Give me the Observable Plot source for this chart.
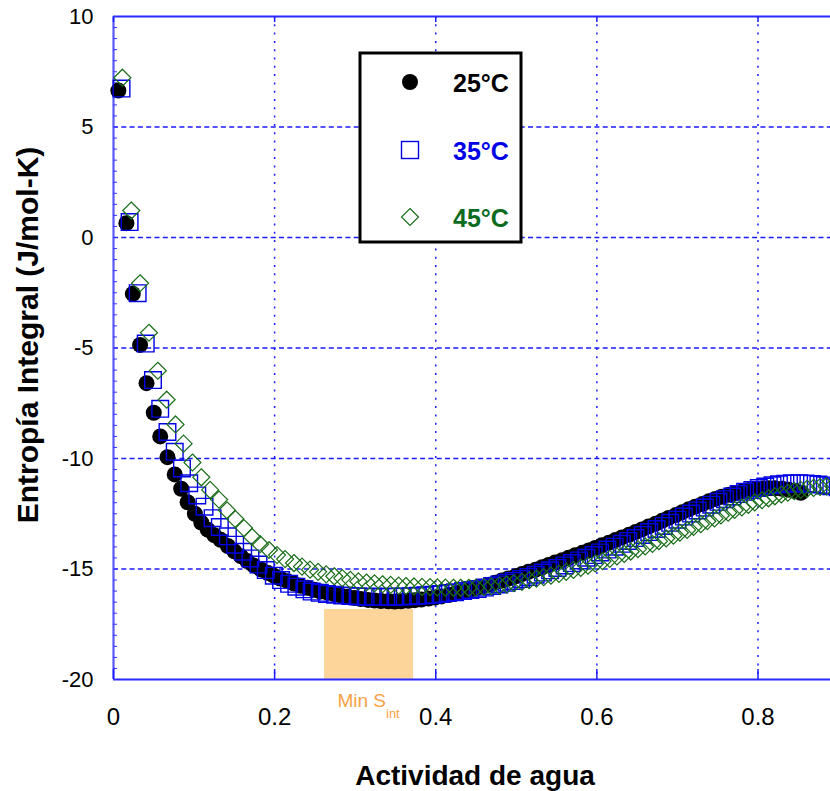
<!DOCTYPE html>
<html><head><meta charset="utf-8">
<script src="https://cdn.jsdelivr.net/npm/d3@7"></script>
<script src="https://cdn.jsdelivr.net/npm/@observablehq/plot@0.6"></script>
<style>html,body{margin:0;padding:0;background:#fff;} svg{display:block;}</style>
</head><body><div id="chart"></div>
<script>
// 25°C (circles)
const aw25 = [0.006,0.016,0.024,0.033,0.041,0.050,0.058,0.067,0.076,0.084,
0.092,0.101,0.109,0.117,0.125,0.133,0.142,0.150,0.158,0.166,
0.174,0.183,0.191,0.199,0.207,0.216,0.224,0.232,0.241,0.249,
0.257,0.266,0.274,0.282,0.291,0.299,0.307,0.316,0.324,0.332,
0.341,0.349,0.357,0.366,0.374,0.382,0.391,0.399,0.407,0.416,
0.424,0.432,0.441,0.449,0.457,0.466,0.474,0.482,0.490,0.499,
0.507,0.515,0.524,0.532,0.540,0.548,0.557,0.565,0.573,0.582,
0.590,0.598,0.606,0.615,0.623,0.631,0.640,0.648,0.656,0.664,
0.673,0.681,0.689,0.698,0.706,0.714,0.722,0.731,0.739,0.747,
0.755,0.764,0.772,0.780,0.788,0.797,0.805,0.813,0.821,0.830,
0.838,0.846,0.853];
const s25 = [6.65,0.65,-2.55,-4.86,-6.59,-7.93,-9.00,-9.94,-10.72,-11.37,
-11.98,-12.50,-12.90,-13.22,-13.47,-13.68,-13.96,-14.20,-14.42,-14.64,
-14.84,-15.02,-15.17,-15.30,-15.43,-15.55,-15.66,-15.76,-15.85,-15.94,
-16.02,-16.08,-16.14,-16.20,-16.26,-16.31,-16.36,-16.40,-16.43,-16.45,
-16.46,-16.47,-16.46,-16.44,-16.41,-16.38,-16.34,-16.29,-16.24,-16.18,
-16.11,-16.04,-15.97,-15.89,-15.80,-15.71,-15.62,-15.52,-15.43,-15.33,
-15.23,-15.13,-15.03,-14.92,-14.82,-14.71,-14.60,-14.49,-14.38,-14.27,
-14.16,-14.05,-13.93,-13.81,-13.69,-13.57,-13.45,-13.33,-13.21,-13.08,
-12.95,-12.82,-12.69,-12.56,-12.43,-12.30,-12.18,-12.06,-11.94,-11.83,
-11.73,-11.64,-11.56,-11.49,-11.43,-11.39,-11.36,-11.35,-11.35,-11.37,
-11.41,-11.47,-11.55];

// 35°C (squares)
const aw35 = [0.010,0.020,0.030,0.040,0.049,0.058,0.067,0.076,0.085,0.094,
0.104,0.113,0.123,0.132,0.142,0.151,0.161,0.170,0.180,0.189,
0.199,0.208,0.218,0.227,0.237,0.246,0.256,0.265,0.275,0.284,
0.294,0.303,0.313,0.322,0.331,0.341,0.350,0.359,0.369,0.378,
0.387,0.397,0.406,0.415,0.424,0.434,0.443,0.452,0.461,0.470,
0.479,0.488,0.497,0.506,0.515,0.524,0.533,0.542,0.551,0.560,
0.569,0.578,0.587,0.596,0.604,0.613,0.622,0.631,0.639,0.648,
0.657,0.665,0.674,0.683,0.691,0.700,0.708,0.717,0.725,0.734,
0.742,0.751,0.759,0.768,0.776,0.784,0.793,0.801,0.809,0.818,
0.826,0.834,0.842,0.851,0.859,0.867,0.875,0.883,0.891,0.899];
const s35 = [6.74,0.70,-2.52,-4.80,-6.45,-7.75,-8.80,-9.70,-10.45,-11.12,
-11.67,-12.18,-12.70,-13.10,-13.52,-13.90,-14.22,-14.52,-14.80,-15.05,
-15.30,-15.50,-15.67,-15.80,-15.92,-16.02,-16.08,-16.13,-16.17,-16.20,
-16.22,-16.24,-16.25,-16.26,-16.26,-16.26,-16.25,-16.24,-16.23,-16.21,
-16.19,-16.16,-16.13,-16.09,-16.05,-16.00,-15.95,-15.90,-15.84,-15.77,
-15.70,-15.62,-15.54,-15.45,-15.36,-15.26,-15.16,-15.06,-14.95,-14.84,
-14.73,-14.61,-14.49,-14.37,-14.25,-14.12,-13.99,-13.86,-13.73,-13.60,
-13.46,-13.33,-13.19,-13.05,-12.91,-12.77,-12.63,-12.49,-12.35,-12.22,
-12.09,-11.96,-11.84,-11.72,-11.61,-11.51,-11.42,-11.34,-11.27,-11.21,
-11.17,-11.14,-11.12,-11.12,-11.13,-11.15,-11.18,-11.22,-11.26,-11.30];

// 45°C (diamonds)
const aw45 = [0.011,0.022,0.033,0.044,0.055,0.066,0.077,0.087,0.098,0.109,
0.120,0.131,0.141,0.151,0.162,0.172,0.182,0.193,0.203,0.213,
0.224,0.234,0.244,0.254,0.264,0.274,0.284,0.294,0.304,0.314,
0.324,0.334,0.344,0.354,0.363,0.373,0.383,0.393,0.402,0.412,
0.422,0.431,0.441,0.450,0.460,0.469,0.479,0.488,0.497,0.507,
0.516,0.525,0.534,0.543,0.553,0.562,0.571,0.580,0.589,0.598,
0.607,0.616,0.625,0.634,0.642,0.651,0.660,0.669,0.677,0.686,
0.695,0.703,0.712,0.720,0.729,0.737,0.746,0.754,0.763,0.771,
0.780,0.788,0.796,0.805,0.813,0.821,0.829,0.837,0.845,0.853,
0.861,0.869,0.877,0.885,0.893];
const s45 = [7.23,1.22,-2.07,-4.31,-6.03,-7.34,-8.46,-9.33,-10.18,-10.85,
-11.42,-11.86,-12.35,-12.73,-13.15,-13.55,-13.88,-14.14,-14.37,-14.55,
-14.73,-14.89,-15.03,-15.13,-15.24,-15.33,-15.41,-15.49,-15.56,-15.61,
-15.65,-15.69,-15.72,-15.75,-15.77,-15.79,-15.81,-15.82,-15.83,-15.84,
-15.85,-15.85,-15.85,-15.84,-15.82,-15.79,-15.75,-15.70,-15.64,-15.58,
-15.51,-15.44,-15.37,-15.30,-15.22,-15.13,-15.04,-14.95,-14.85,-14.75,
-14.65,-14.54,-14.43,-14.32,-14.21,-14.10,-13.98,-13.86,-13.74,-13.62,
-13.49,-13.36,-13.23,-13.10,-12.97,-12.84,-12.71,-12.58,-12.45,-12.33,
-12.21,-12.10,-11.99,-11.89,-11.80,-11.71,-11.63,-11.55,-11.48,-11.42,
-11.37,-11.33,-11.29,-11.26,-11.24];

const xTicks = [0, 0.2, 0.4, 0.6, 0.8];
const yTicks = [-20, -15, -10, -5, 0, 5, 10];
const yMinor = [-20,-19.5,-19,-18.5,-18,-17.5,-17,-16.5,-16,-15.5,-15,-14.5,-14,-13.5,-13,-12.5,-12,-11.5,-11,-10.5,-10,-9.5,-9,-8.5,-8,-7.5,-7,-6.5,-6,-5.5,-5,-4.5,-4,-3.5,-3,-2.5,-2,-1.5,-1,-0.5,0,0.5,1,1.5,2,2.5,3,3.5,4,4.5,5,5.5,6,6.5,7,7.5,8,8.5,9,9.5,10];
const minBand = [0.262, 0.3725];
const minTop = [-16.83];
const seriesNames = ["25°C", "35°C", "45°C"];
const seriesColors = ["#000000", "#0000e6", "#0b6b1f"];
const xTitle = "Actividad de agua";
const yTitle = "Entropía Integral (J/mol-K)";

const squareSym = {draw(ctx, size){const r=Math.sqrt(size/Math.PI); ctx.moveTo(-r,-r); ctx.lineTo(r,-r); ctx.lineTo(r,r); ctx.lineTo(-r,r); ctx.closePath();}};
const diamondSym = {draw(ctx, size){const r=Math.sqrt(size/Math.PI); ctx.moveTo(0,-r); ctx.lineTo(r,0); ctx.lineTo(0,r); ctx.lineTo(-r,0); ctx.closePath();}};

const grid = "#1a1aff";
const plot = Plot.plot({
  width: 830, height: 791,
  marginTop: 16, marginRight: 0, marginBottom: 112, marginLeft: 113,
  style: {fontFamily: "'Liberation Sans', Arial, sans-serif", background: "#fff", color: "#000", overflow: "visible"},
  x: {domain: [0, 0.89]},
  y: {domain: [-20, 10]},
  marks: [
    Plot.rect(minTop, {x1: () => minBand[0], x2: () => minBand[1], y1: () => -20, y2: d => d, fill: "#fdd59a"}),
    Plot.gridY(yTicks.filter(d => d > -20 && d < 10), {stroke: grid, strokeOpacity: 1, strokeWidth: 1.3, strokeDasharray: "5,3.3"}),
    Plot.gridX(xTicks.filter(d => d > 0), {stroke: grid, strokeOpacity: 1, strokeWidth: 1.5, strokeDasharray: "2,6.3"}),
    Plot.ruleY([10, -20], {stroke: "#2a2aff", strokeWidth: 2}),
    Plot.ruleX([0], {stroke: "#5a5aff", strokeWidth: 2.2}),
    Plot.axisY(yMinor, {tickSize: -4, tickFormat: () => "", label: null, stroke: "#3333ff"}),
    Plot.axisX(xTicks, {tickSize: -10, tickFormat: () => "", label: null, stroke: grid, strokeWidth: 1.5}),
    Plot.axisX(xTicks, {anchor: "top", tickSize: -5, tickFormat: () => "", label: null, stroke: grid, strokeWidth: 1.5}),
    Plot.axisX(xTicks, {tickSize: 0, tickPadding: 28, fontSize: 24, tickFormat: d => String(d), label: null}),
    Plot.axisY(yTicks, {tickSize: 0, tickPadding: 20, fontSize: 22, tickFormat: d => String(d), label: null}),
    Plot.dot(aw25, {x: aw25, y: s25, r: 8, fill: seriesColors[0], stroke: "none"}),
    Plot.dot(aw35, {x: aw35, y: s35, r: 8.3, symbol: squareSym, fill: "none", stroke: seriesColors[1], strokeWidth: 1.4}),
    Plot.dot(aw45, {x: aw45, y: s45, r: 8.5, symbol: diamondSym, fill: "none", stroke: "#1a6e1a", strokeWidth: 1.2})
  ]
});
document.getElementById("chart").appendChild(plot);

const svg = d3.select(plot);
const sx = plot.scale("x");
const font = "'Liberation Sans', Arial, sans-serif";

// Min S_int label under the band
const lab = svg.append("text")
  .attr("x", sx.apply((minBand[0] + minBand[1]) / 2))
  .attr("y", 707)
  .attr("text-anchor", "middle")
  .attr("fill", "#f7a145")
  .attr("font-family", font)
  .attr("font-size", 19)
  .text("Min S");
lab.append("tspan").attr("font-size", 13).attr("dy", 11).text("int");

// Axis titles
svg.append("text").attr("x", 475).attr("y", 785).attr("text-anchor", "middle")
  .attr("font-family", font).attr("font-weight", "bold").attr("font-size", 28).attr("fill", "#000").text(xTitle);
svg.append("text").attr("transform", "translate(38,335) rotate(-90)").attr("text-anchor", "middle")
  .attr("font-family", font).attr("font-weight", "bold").attr("font-size", 30).attr("fill", "#000").text(yTitle);

// Legend box
const lg = svg.append("g");
lg.append("rect").attr("x", 360).attr("y", 53).attr("width", 161).attr("height", 189)
  .attr("fill", "#fff").attr("stroke", "#000").attr("stroke-width", 3);
const rowsY = [82, 150, 217];
lg.append("circle").attr("cx", 410).attr("cy", rowsY[0]).attr("r", 8).attr("fill", seriesColors[0]);
lg.append("rect").attr("x", 401.5).attr("y", rowsY[1] - 8.5).attr("width", 17).attr("height", 17)
  .attr("fill", "none").attr("stroke", seriesColors[1]).attr("stroke-width", 1.4);
lg.append("path").attr("d", `M410,${rowsY[2]-8.5}L418.5,${rowsY[2]}L410,${rowsY[2]+8.5}L401.5,${rowsY[2]}Z`)
  .attr("fill", "none").attr("stroke", "#1a6e1a").attr("stroke-width", 1.2);
seriesNames.forEach((s, i) => {
  lg.append("text").attr("x", 453).attr("y", rowsY[i] + 9.5).attr("text-anchor", "start")
    .attr("font-family", font).attr("font-weight", "bold").attr("font-size", 25)
    .attr("fill", seriesColors[i]).text(s);
});
</script>
</body></html>
